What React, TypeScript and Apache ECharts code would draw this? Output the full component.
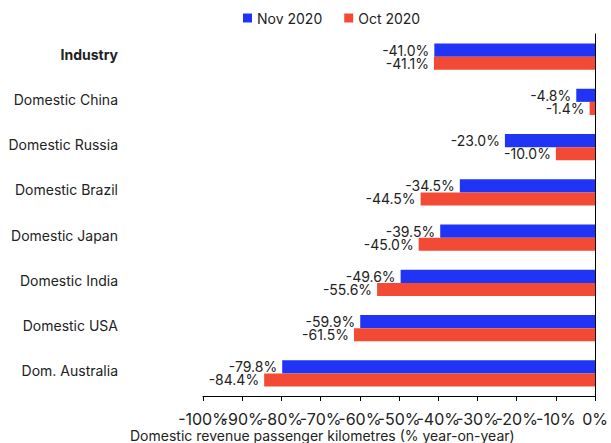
import React, { useEffect, useRef } from "react";
import * as echarts from "echarts";

const categories = [
  "Industry",
  "Domestic China",
  "Domestic Russia",
  "Domestic Brazil",
  "Domestic Japan",
  "Domestic India",
  "Domestic USA",
  "Dom. Australia",
];
const nov2020 = [-41.0, -4.8, -23.0, -34.5, -39.5, -49.6, -59.9, -79.8];
const oct2020 = [-41.1, -1.4, -10.0, -44.5, -45.0, -55.6, -61.5, -84.4];
const seriesNames = ["Nov 2020", "Oct 2020"];
const axisTitle = "Domestic revenue passenger kilometres (% year-on-year)";
const X_MIN = -100;
const X_MAX = 0;
const X_STEP = 10;

const FONT = "Inter, 'Noto Sans', sans-serif";
const BLUE = "#1f34f4";
const RED = "#f24a35";
const TEXT = "#222222";

export default function App() {
  const ref = useRef<HTMLDivElement>(null);
  useEffect(() => {
    document.body.style.margin = "0";
    if (!ref.current) return;
    const chart = echarts.init(ref.current, undefined, { renderer: "svg" });
    const label = {
      show: true,
      position: "left" as const,
      distance: 5,
      color: TEXT,
      fontSize: 14,
      fontFamily: FONT,
      formatter: (p: any) => `${Number(p.value).toFixed(1)}%`,
    };
    const tickLabel = {
      fontSize: 16,
      color: TEXT,
      fontFamily: FONT,
      margin: 15,
      showMinLabel: true,
      showMaxLabel: true,
      hideOverlap: false,
    };
    chart.setOption({
      animation: false,
      textStyle: { fontFamily: FONT },
      legend: {
        left: 238,
        top: 6,
        icon: "rect",
        itemWidth: 9,
        itemHeight: 9,
        itemGap: 22,
        textStyle: { fontSize: 14, color: TEXT, fontFamily: FONT },
        data: seriesNames,
      },
      grid: { left: 203, right: 13, top: 34, bottom: 47, containLabel: false },
      xAxis: [
        {
          type: "value",
          position: "bottom",
          min: X_MIN,
          max: X_MAX,
          interval: X_STEP,
          axisLine: { show: true, lineStyle: { color: "#000", width: 1 } },
          axisTick: { show: true, length: 5, lineStyle: { color: "#000" } },
          splitLine: { show: false },
          axisLabel: {
            ...tickLabel,
            formatter: (v: number) => (v === X_MIN ? "" : `${v}%`),
          },
        },
        {
          type: "value",
          position: "bottom",
          offset: 0,
          min: X_MIN,
          max: X_MAX,
          interval: X_STEP,
          axisLine: { show: false },
          axisTick: { show: false },
          splitLine: { show: false },
          axisLabel: {
            ...tickLabel,
            formatter: (v: number) => (v === X_MIN ? `${v}%` : ""),
          },
        },
      ],
      yAxis: [
        {
          type: "category",
          data: categories,
          inverse: true,
          position: "left",
          axisLine: { show: false, onZero: false },
          axisTick: { show: false },
          axisLabel: {
            margin: 85,
            color: TEXT,
            fontSize: 14,
            fontFamily: FONT,
            padding: [0, 0, 5, 0],
            formatter: (v: string) => (v === "Industry" ? `{b|${v}}` : v),
            rich: {
              b: { fontWeight: "bold", fontSize: 14, color: TEXT, fontFamily: FONT },
            },
          },
        },
        {
          type: "category",
          data: categories,
          inverse: true,
          position: "right",
          axisLine: { show: true, onZero: false, lineStyle: { color: "#000", width: 1 } },
          axisTick: { show: false },
          axisLabel: { show: false },
        },
      ],
      series: [
        {
          name: seriesNames[0],
          type: "bar",
          data: nov2020,
          itemStyle: { color: BLUE },
          barGap: "0%",
          barCategoryGap: "42%",
          label,
        },
        {
          name: seriesNames[1],
          type: "bar",
          data: oct2020,
          itemStyle: { color: RED },
          barGap: "0%",
          barCategoryGap: "42%",
          label,
        },
      ],
      graphic: [
        {
          type: "text",
          left: 130,
          top: 428,
          style: { text: axisTitle, fill: TEXT, fontSize: 14, fontFamily: FONT },
        },
      ],
    });
    return () => chart.dispose();
  }, []);
  return <div ref={ref} style={{ width: 611, height: 443 }} />;
}
